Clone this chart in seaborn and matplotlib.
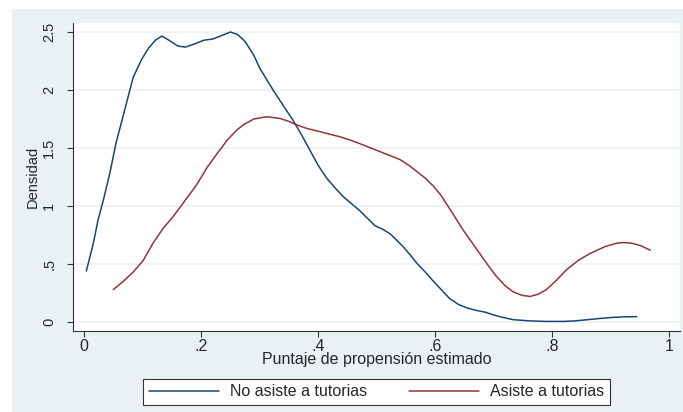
import numpy as np
import pandas as pd
import seaborn as sns
import matplotlib.pyplot as plt
from matplotlib.patches import Rectangle

# densidad estimada - no asiste a tutorias
x_no = [0.004, 0.016, 0.024, 0.033, 0.044, 0.055, 0.066, 0.084, 0.098, 0.11,
        0.122, 0.133, 0.145, 0.16, 0.173, 0.19, 0.205, 0.22, 0.235, 0.25,
        0.262, 0.275, 0.29, 0.30, 0.323, 0.345, 0.357, 0.372, 0.386, 0.40,
        0.4145, 0.43, 0.443, 0.457, 0.471, 0.485, 0.497, 0.51, 0.523, 0.535,
        0.545, 0.557, 0.568, 0.583, 0.597, 0.61, 0.625, 0.64, 0.655, 0.67,
        0.685, 0.70, 0.715, 0.733, 0.76, 0.79, 0.82, 0.84, 0.86, 0.88,
        0.904, 0.925, 0.944]
y_no = [0.44, 0.68, 0.88, 1.05, 1.28, 1.55, 1.76, 2.11, 2.26, 2.36,
        2.43, 2.465, 2.43, 2.38, 2.37, 2.40, 2.43, 2.44, 2.47, 2.50,
        2.48, 2.42, 2.30, 2.19, 2.00, 1.83, 1.74, 1.61, 1.48, 1.35,
        1.24, 1.15, 1.08, 1.02, 0.96, 0.89, 0.83, 0.80, 0.76, 0.70,
        0.65, 0.58, 0.51, 0.43, 0.35, 0.28, 0.20, 0.15, 0.12, 0.10,
        0.085, 0.06, 0.04, 0.02, 0.01, 0.005, 0.005, 0.01, 0.02, 0.03,
        0.04, 0.045, 0.046]

# densidad estimada - asiste a tutorias
x_si = [0.05, 0.067, 0.084, 0.101, 0.118, 0.1355, 0.1525, 0.17, 0.192, 0.21,
        0.227, 0.245, 0.26, 0.272, 0.29, 0.312, 0.335, 0.35, 0.363, 0.38,
        0.40, 0.415, 0.435, 0.454, 0.47, 0.485, 0.5, 0.52, 0.54, 0.555,
        0.568, 0.583, 0.597, 0.61, 0.619, 0.633, 0.648, 0.662, 0.676, 0.69,
        0.705, 0.72, 0.733, 0.748, 0.762, 0.776, 0.79, 0.807, 0.824, 0.844,
        0.864, 0.89, 0.91, 0.921, 0.935, 0.95, 0.967]
y_si = [0.28, 0.35, 0.43, 0.53, 0.68, 0.81, 0.91, 1.03, 1.18, 1.33,
        1.45, 1.57, 1.65, 1.70, 1.75, 1.77, 1.755, 1.73, 1.70, 1.67,
        1.645, 1.625, 1.60, 1.57, 1.54, 1.51, 1.48, 1.44, 1.40, 1.35,
        1.30, 1.24, 1.17, 1.09, 1.02, 0.91, 0.79, 0.69, 0.59, 0.49,
        0.39, 0.31, 0.26, 0.23, 0.22, 0.24, 0.28, 0.36, 0.45, 0.53,
        0.59, 0.65, 0.68, 0.685, 0.68, 0.66, 0.62]

grupos = ['No asiste a tutorias', 'Asiste a tutorias']
xticks = [0, 0.2, 0.4, 0.6, 0.8, 1]
xtick_labels = ['0', '.2', '.4', '.6', '.8', '1']
yticks = [0, 0.5, 1, 1.5, 2, 2.5]
ytick_labels = ['0', '.5', '1', '1.5', '2', '2.5']

tabela = pd.concat([
    pd.DataFrame({'x': x_no, 'y': y_no, 'grupo': grupos[0]}),
    pd.DataFrame({'x': x_si, 'y': y_si, 'grupo': grupos[1]}),
])

sns.set_style('white')
plt.rcParams['font.family'] = ['Liberation Sans', 'DejaVu Sans']

fundo = '#EAF1F3'
fig = plt.figure(figsize=(6.83, 4.12), dpi=100, facecolor='white')
fig.patches.append(Rectangle((12 / 683, 0), 1 - 12 / 683, 1 - 9 / 412,
                             transform=fig.transFigure, color=fundo, zorder=-5))
ax = fig.add_axes([73 / 683, 81 / 412, 607 / 683, 308 / 412])
ax.set_zorder(2)
ax.set_facecolor('white')

sns.lineplot(data=tabela, x='x', y='y', hue='grupo', hue_order=grupos,
             palette=['#1A476F', '#90353B'], linewidth=1.1, sort=False,
             estimator=None, ax=ax)

ax.set_xlim(-0.0188, 1.018)
ax.set_ylim(-0.0776, 2.578)
ax.set_xticks(xticks)
ax.set_xticklabels(xtick_labels)
ax.set_yticks(yticks)
ax.set_yticklabels(ytick_labels, rotation=90, va='center')
for yv in yticks:
    ax.axhline(yv, color=fundo, linewidth=1.2, zorder=0)
ax.tick_params(axis='both', which='both', length=4, width=0.8, color='#333333',
               direction='out', bottom=True, left=True)
ax.tick_params(axis='x', labelsize=11.5, pad=1.5)
ax.tick_params(axis='y', labelsize=10.5, pad=8)
for s in ['top', 'right']:
    ax.spines[s].set_visible(False)
for s in ['left', 'bottom']:
    ax.spines[s].set_color('#333333')
    ax.spines[s].set_linewidth(0.8)

ax.set_xlabel('Puntaje de propensión estimado', fontsize=11.5, labelpad=-1)
ax.set_ylabel('Densidad', fontsize=10.5, labelpad=2)

ax.legend_.remove()
h, l = ax.get_legend_handles_labels()
leg = fig.legend(h, l, loc='center', bbox_to_anchor=(376.5 / 683, 20 / 412),
                 ncol=2, fontsize=11.5, frameon=True, fancybox=False,
                 handlelength=4.4, handletextpad=0.7, columnspacing=2.6,
                 borderpad=0.35, framealpha=1, facecolor='white')
leg.get_frame().set_edgecolor('#333333')
leg.get_frame().set_linewidth(0.8)

plt.savefig('out.png', dpi=100, facecolor='white')
